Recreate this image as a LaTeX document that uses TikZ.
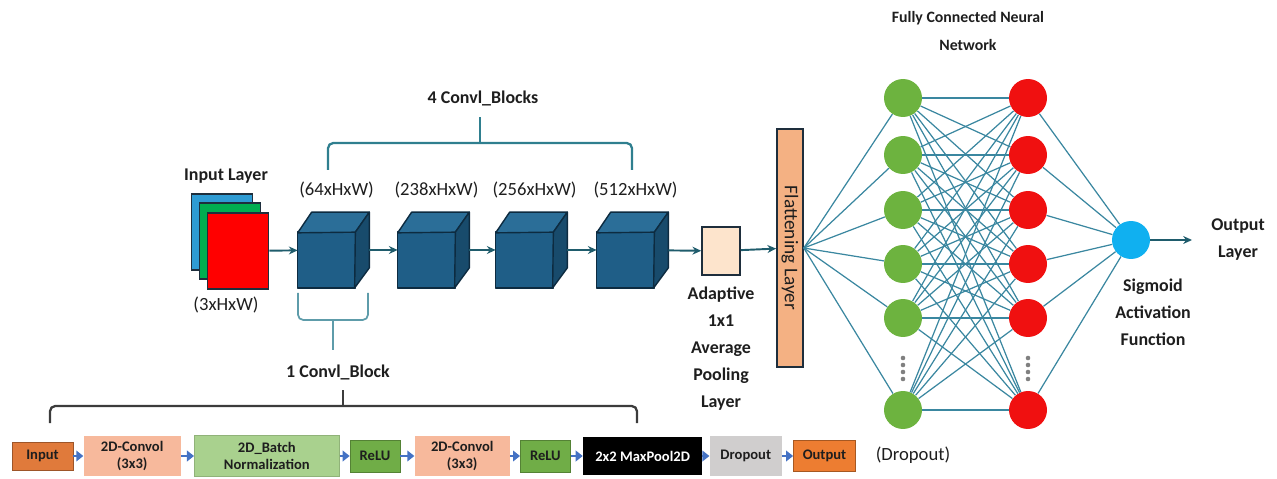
\documentclass[tikz,border=0pt]{standalone}
\usepackage{fontspec}
\setmainfont{Carlito}
\usetikzlibrary{positioning,calc,arrows.meta}
\definecolor{ink}{HTML}{1E1E1E}
\definecolor{cardline}{HTML}{1E2E3C}
\definecolor{cardblue}{HTML}{2E9BD3}
\definecolor{cardgreen}{HTML}{00AE50}
\definecolor{cardred}{HTML}{FF0000}
\definecolor{cubefront}{HTML}{1F5E87}
\definecolor{cubetop}{HTML}{2B6E98}
\definecolor{cubeside}{HTML}{184B6C}
\definecolor{cubeline}{HTML}{0D2B40}
\definecolor{flowcol}{HTML}{1F5C6C}
\definecolor{poolfill}{HTML}{FDE4CC}
\definecolor{flatfill}{HTML}{F4B183}
\definecolor{wirecol}{HTML}{3A87A0}
\definecolor{nngreen}{HTML}{6DB33F}
\definecolor{nnred}{HTML}{F01010}
\definecolor{nnblue}{HTML}{10B0F0}
\definecolor{braceteal}{HTML}{2F7F8F}
\definecolor{bracelight}{HTML}{5E9CAA}
\definecolor{bracedark}{HTML}{3C3C3C}
\definecolor{inputcol}{HTML}{E07A3B}
\definecolor{outputcol}{HTML}{ED7D31}
\definecolor{convcol}{HTML}{F7B99C}
\definecolor{bncol}{HTML}{A9D18E}
\definecolor{relucol}{HTML}{70AD47}
\definecolor{dropcol}{HTML}{D0CECE}
\definecolor{triblue}{HTML}{4472C4}

\begin{document}
\begin{tikzpicture}[x=0.02cm,y=-0.02cm,
    every node/.style={font=\bfseries\fontsize{10.2}{15.4}\selectfont,align=center,text=ink,inner sep=1pt},
    dimlbl/.style={font=\fontsize{10.6}{14}\selectfont},
    card/.style={draw=cardline,line width=0.9pt,minimum width=1.22cm,minimum height=1.52cm,inner sep=0pt},
    cubebox/.style={minimum width=1.42cm,minimum height=1.5cm,inner sep=0pt},
    cubeedge/.style={draw=cubeline,line width=0.8pt,line join=round},
    flow/.style={-{Stealth[length=5pt,width=4.5pt]},flowcol,line width=1.1pt},
    neuron/.style={circle,minimum size=0.76cm,inner sep=0pt},
    wire/.style={wirecol,line width=0.7pt},
    stage/.style={font=\bfseries\fontsize{8.3}{10}\selectfont,inner sep=0pt,minimum height=0.82cm},
    tri/.style={-{Triangle[length=4pt,width=6pt]},triblue,line width=1.6pt},
  ]
  \useasboundingbox (0,0) rectangle (1277,479);

  % input tensor: three channel cards
  \node[card,fill=cardblue] (cblue) at (222,232) {};
  \node[card,fill=cardgreen] (cgreen) at (230,241) {};
  \node[card,fill=cardred] (cred) at (238,251) {};
  \node (inlbl) at (226,176) {Input Layer};
  \node[dimlbl] (indim) at (226,305) {(3xHxW)};

  % conv blocks as cubes
  \foreach \i/\x/\ch in {1/333.5/64,2/433.5/238,3/531.5/256,4/632.5/512} {
    \node[cubebox] (b\i) at (\x,250) {};
    \filldraw[cubeedge,fill=cubefront] (b\i.south west) rectangle ($(b\i.north east)+(-14,20)$);
    \filldraw[cubeedge,fill=cubetop] ($(b\i.south west)+(0,-55)$) -- ($(b\i.north west)+(14,0)$)
      -- (b\i.north east) -- ($(b\i.north east)+(-14,20)$) -- cycle;
    \filldraw[cubeedge,fill=cubeside] ($(b\i.north east)+(-14,20)$) -- (b\i.north east)
      -- ($(b\i.south east)+(0,-20)$) -- ($(b\i.south west)+(57,0)$) -- cycle;
    \node[dimlbl] at ($(b\i.north)+(3,-22)$) {(\ch xHxW)};
  }

  % pooling and flattening
  \node[draw=cardline,line width=0.9pt,fill=poolfill,minimum width=0.76cm,minimum height=0.96cm] (pool) at (721,251) {};
  \node[anchor=north] (poollbl) at (721,285) {Adaptive\\1x1\\Average\\Pooling\\Layer};
  \node[draw=cardline,line width=0.9pt,fill=flatfill,minimum width=0.52cm,minimum height=4.76cm,inner sep=0pt] (flat) at (790,248) {};
  \node[rotate=-90,font=\fontsize{11}{13}\selectfont] at (flat.center) {Flattening Layer};

  \draw[flow] (cred) -- (b1);
  \foreach \a/\b in {b1/b2,b2/b3,b3/b4,b4/pool,pool/flat}
    \draw[flow] (\a) -- (\b);

  % fully connected part
  \foreach \i/\y in {1/98,2/155,3/210,4/264,5/318,6/410} {
    \node[neuron,fill=nngreen] (g\i) at (903,\y) {};
    \node[neuron,fill=nnred] (r\i) at (1028,\y) {};
  }
  \node[neuron,fill=nnblue] (sig) at (1131,240) {};
  \foreach \i in {1,...,6} {
    \draw[wire] (flat.east) -- (g\i);
    \draw[wire] (r\i) -- (sig);
    \foreach \j in {1,...,6}
      \draw[wire] (g\i) -- (r\j);
  }
  \foreach \y in {358,365,372,379} {
    \fill[gray] (903,\y) circle (1.3pt);
    \fill[gray] (1028,\y) circle (1.3pt);
  }
  \coordinate (out) at (1192,240);
  \draw[flow] (sig) -- (out);

  \node[font=\bfseries\fontsize{9}{15.9}\selectfont] (fctitle) at (968,31) {Fully Connected Neural\\Network};
  \node (outlbl) at (1238,240) {Output\\Layer};
  \node (siglbl) at (1153,312) {Sigmoid\\Activation\\Function};
  \node[dimlbl] (droplbl) at (913,455) {(Dropout)};

  % braces
  \node (blk4) at (483,98) {4 Convl\_Blocks};
  \draw[braceteal,line width=1.3pt,rounded corners=3pt] (328,170) -- (328,143) -- (632,143) -- (632,170);
  \draw[braceteal,line width=1.3pt] (480,143) -- (480,117);
  \draw[bracelight,line width=1pt,rounded corners=3pt] (298,293) -- (298,320) -- (368,320) -- (368,293);
  \draw[bracelight,line width=1pt] (333,320) -- (333,350);
  \node (blk1) at (338,372) {1 Convl\_Block};
  \draw[bracedark,line width=1.3pt,rounded corners=3pt] (50,423) -- (50,406) -- (637,406) -- (637,423);
  \draw[bracedark,line width=1.3pt] (343,406) -- (343,390);

  % layers inside one block
  \node[stage,fill=inputcol,draw=inputcol!70!black,minimum width=1.22cm,minimum height=0.56cm] (sin) at (42.5,456) {Input};
  \node[stage,fill=convcol,minimum width=1.94cm,right=0.2cm of sin] (cv1) {2D-Convol\\(3x3)};
  \node[stage,fill=bncol,draw=bncol!85!black,minimum width=2.9cm,right=0.26cm of cv1] (bn) {2D\_Batch\\Normalization};
  \node[stage,fill=relucol,draw=relucol!75!black,minimum width=1.0cm,minimum height=0.64cm,right=0.2cm of bn] (re1) {ReLU};
  \node[stage,fill=convcol,minimum width=1.9cm,right=0.28cm of re1] (cv2) {2D-Convol\\(3x3)};
  \node[stage,fill=relucol,draw=relucol!75!black,minimum width=1.0cm,minimum height=0.64cm,right=0.2cm of cv2] (re2) {ReLU};
  \node[stage,fill=black,text=white,minimum width=2.38cm,minimum height=0.76cm,right=0.24cm of re2] (mp) {2x2 MaxPool2D};
  \node[stage,fill=dropcol,minimum width=1.44cm,right=0.14cm of mp] (dp) {Dropout};
  \node[stage,fill=outputcol,draw=outputcol!70!black,minimum width=1.24cm,minimum height=0.62cm,right=0.22cm of dp] (sout) {Output};
  \foreach \a/\b in {sin/cv1,cv1/bn,bn/re1,re1/cv2,cv2/re2,re2/mp,mp/dp,dp/sout}
    \draw[tri] (\a) -- (\b);
\end{tikzpicture}
\end{document}
